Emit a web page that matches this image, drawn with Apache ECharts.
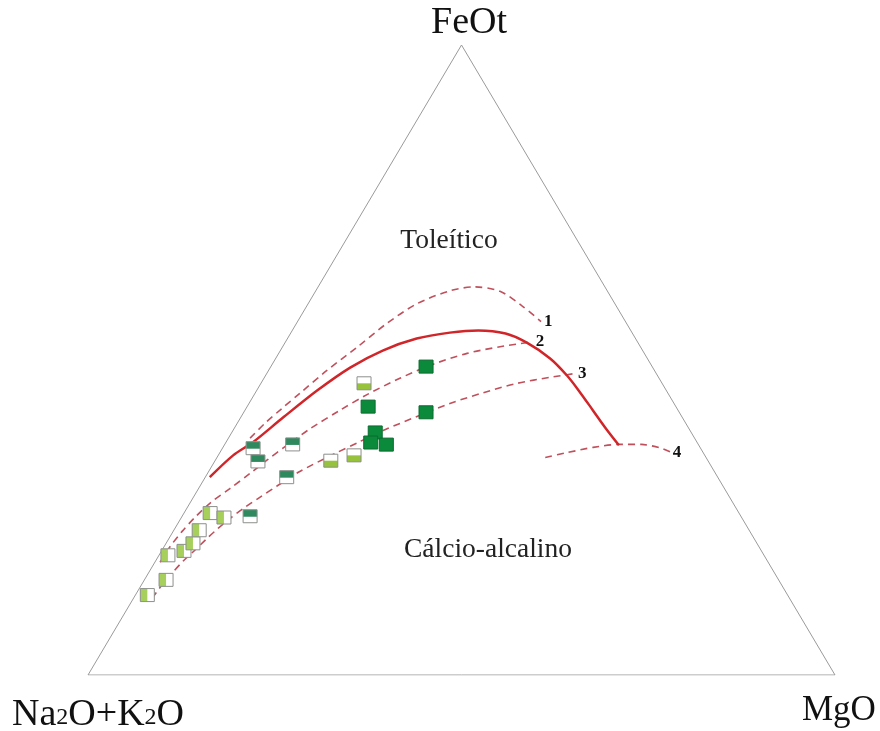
<!DOCTYPE html>
<html>
<head>
<meta charset="utf-8">
<style>
  html,body{margin:0;padding:0;background:#fff;}
  #chart{width:880px;height:731px;}
</style>
<script src="https://cdn.jsdelivr.net/npm/echarts@6/dist/echarts.min.js"></script>
</head>
<body>
<div id="chart"></div>
<script>
// Ternary compositions as [Na2O+K2O (A), FeOt (F), MgO (M)] in %
var vertexLabels = ['Na2O+K2O', 'FeOt', 'MgO'];
var fieldLabels = ['Toleítico', 'Cálcio-alcalino'];
var curveNames = ['1', '2', '3', '4'];

var triangle = [[100, 0, 0], [0, 100, 0], [0, 0, 100], [100, 0, 0]];

// Samples: half dark-teal (top) squares
var groupTopTeal = [[59.9, 36.0, 4.1], [60.3, 33.9, 5.8], [54.3, 36.6, 9.1], [57.7, 31.4, 10.9], [65.7, 25.2, 9.1]];
// Samples: half light-green (left) squares
var groupLeftGreen = [[85.8, 12.7, 1.6], [82.0, 15.1, 2.9], [79.8, 19.0, 1.2], [77.3, 19.7, 3.0], [75.5, 20.9, 3.6], [73.7, 23.0, 3.4], [70.8, 25.7, 3.5], [69.3, 25.0, 5.7]];
// Samples: half yellow-green (bottom) squares
var groupBottomGreen = [[39.9, 46.3, 13.8], [51.8, 34.9, 15.9], [47.0, 34.9, 18.2]];
// Samples: full dark-green squares
var groupFullGreen = [[30.3, 49.0, 20.8], [41.2, 42.6, 16.2], [33.9, 41.7, 24.4], [42.3, 38.5, 19.2], [43.7, 36.9, 19.4], [40.9, 35.8, 21.2]];

// Tholeiitic / calc-alkaline boundary (solid)
var boundary = [[68.0, 31.4, 0.6], [63.2, 34.9, 2.0], [59.4, 36.9, 3.6], [53.4, 40.9, 5.7], [46.8, 45.2, 8.1], [40.5, 48.8, 10.7], [34.8, 51.5, 13.7], [29.3, 53.4, 17.3], [24.4, 54.4, 21.3], [20.4, 54.7, 24.9], [17.0, 54.2, 28.8], [14.9, 52.8, 32.4], [13.0, 50.2, 36.7], [12.1, 47.5, 40.4], [11.7, 44.9, 43.4], [11.4, 42.0, 46.6], [11.1, 39.1, 49.8], [10.7, 36.5, 52.9]];

// Dashed reference trends 1-4
var curve1 = [[59.5, 37.6, 2.9], [56.3, 39.9, 3.7], [52.9, 42.3, 4.8], [49.3, 44.7, 6.0], [43.8, 48.3, 7.8], [38.0, 52.0, 10.0], [32.1, 55.8, 12.1], [26.5, 59.0, 14.6], [21.0, 61.0, 18.0], [17.4, 61.6, 21.0], [14.4, 60.9, 24.7], [12.6, 58.6, 28.8], [11.3, 56.1, 32.6]];
var curve2 = [[81.4, 17.9, 0.7], [78.8, 20.4, 0.8], [76.0, 22.8, 1.2], [73.2, 25.0, 1.8], [70.0, 27.3, 2.7], [66.2, 29.6, 4.2], [62.3, 32.0, 5.7], [59.0, 34.1, 6.9], [55.1, 36.5, 8.4], [50.7, 39.1, 10.2], [45.3, 42.0, 12.7], [40.4, 44.5, 15.1], [34.7, 47.1, 18.2], [29.2, 49.3, 21.5], [23.7, 51.0, 25.2], [18.8, 52.1, 29.1], [14.0, 52.9, 33.1]];
var curve3 = [[85.3, 12.2, 2.5], [82.7, 14.6, 2.8], [80.5, 16.3, 3.2], [78.2, 18.1, 3.7], [75.8, 19.8, 4.4], [73.2, 21.7, 5.1], [70.9, 23.3, 5.8], [68.6, 24.9, 6.6], [65.7, 26.6, 7.7], [62.9, 28.2, 8.9], [59.7, 30.0, 10.3], [55.5, 32.3, 12.2], [49.7, 35.0, 15.3], [45.1, 37.1, 17.9], [41.1, 38.8, 20.1], [35.4, 41.0, 23.5], [30.0, 43.1, 26.9], [24.7, 44.8, 30.5], [19.4, 46.3, 34.3], [14.5, 47.2, 38.2], [10.6, 47.9, 41.5]];
var curve4 = [[21.5, 34.5, 43.9], [18.2, 35.3, 46.5], [14.3, 36.1, 49.5], [10.7, 36.6, 52.7], [7.6, 36.6, 55.8], [5.5, 36.1, 58.4], [4.2, 35.3, 60.5]];

// ternary -> cartesian (x across base, y = FeOt fraction)
function toXY(list) {
  return list.map(function (t) {
    var s = t[0] + t[1] + t[2];
    var f = t[1] / s, m = t[2] / s;
    return [m + f / 2, f];
  });
}

function boxRenderer(kind) {
  return function (params, api) {
    var p = api.coord([api.value(0), api.value(1)]);
    var w = 14, h = 13;
    var x = p[0] - w / 2, y = p[1] - h / 2;
    var children = [];
    if (kind === 'full') {
      children.push({type: 'rect', shape: {x: x, y: y, width: w, height: h}, style: {fill: '#0c8a3c', stroke: '#0a6b2e', lineWidth: 1}});
    } else {
      children.push({type: 'rect', shape: {x: x, y: y, width: w, height: h}, style: {fill: '#ffffff', stroke: 'none'}});
      var r;
      if (kind === 'top') r = {x: x, y: y, width: w, height: h / 2 + 0.5};
      if (kind === 'left') r = {x: x, y: y, width: w / 2, height: h};
      if (kind === 'bottom') r = {x: x, y: y + h / 2, width: w, height: h / 2};
      var col = kind === 'top' ? '#2e8a5e' : (kind === 'left' ? '#a6cf5c' : '#97c23e');
      children.push({type: 'rect', shape: r, style: {fill: col}});
      children.push({type: 'rect', shape: {x: x, y: y, width: w, height: h}, style: {fill: 'none', stroke: '#8c8f8c', lineWidth: 1}});
    }
    return {type: 'group', children: children};
  };
}

function dashed(name, data, label, dist, sm) {
  return {
    type: 'line', name: name, data: toXY(data), smooth: sm, showSymbol: false, symbol: 'none',
    lineStyle: {color: '#c0505c', width: 1.6, type: [7, 5]},
    endLabel: {show: true, formatter: label, distance: dist, color: '#111',
      fontFamily: 'Liberation Serif', fontWeight: 'bold', fontSize: 17},
    z: 3, silent: true
  };
}

var chart = echarts.init(document.getElementById('chart'), null, {renderer: 'canvas'});
chart.setOption({
  backgroundColor: '#ffffff',
  animation: false,
  grid: {left: 88, right: 45, top: 45, bottom: 56},
  xAxis: {type: 'value', min: 0, max: 1, show: false},
  yAxis: {type: 'value', min: 0, max: 1, show: false},
  graphic: [
    {type: 'text', x: 469, y: 23, style: {text: vertexLabels[1], fontFamily: 'Liberation Serif', fontSize: 38, fill: '#111', align: 'center', verticalAlign: 'middle'}},
    {type: 'text', x: 12, y: 713, style: {
      text: '{a|Na}{s|2}{a|O+K}{s|2}{a|O}',
      verticalAlign: 'middle', align: 'left',
      rich: {
        a: {fontFamily: 'Liberation Serif', fontSize: 38, fill: '#111', verticalAlign: 'bottom', lineHeight: 42},
        s: {fontFamily: 'Liberation Serif', fontSize: 24, fill: '#111', verticalAlign: 'bottom', lineHeight: 42, padding: [0, 0, 4, 0]}
      }}},
    {type: 'text', x: 802, y: 711, style: {text: vertexLabels[2], fontFamily: 'Liberation Serif', fontSize: 35, fill: '#111', align: 'left', verticalAlign: 'middle'}},
    {type: 'text', x: 449, y: 241, style: {text: fieldLabels[0], fontFamily: 'Liberation Serif', fontSize: 27.5, fill: '#222', align: 'center', verticalAlign: 'middle'}},
    {type: 'text', x: 488, y: 550, style: {text: fieldLabels[1], fontFamily: 'Liberation Serif', fontSize: 27.5, fill: '#222', align: 'center', verticalAlign: 'middle'}}
  ],
  series: [
    {type: 'line', name: 'triangle', data: toXY(triangle), showSymbol: false, symbol: 'none',
      lineStyle: {color: '#9a9a9a', width: 1}, z: 1, silent: true},
    dashed('c1', curve1, curveNames[0], 3, 0.3),
    dashed('c2', curve2, curveNames[1], 3, 0.3),
    dashed('c3', curve3, curveNames[2], 1, 0.3),
    dashed('c4', curve4, curveNames[3], 1, 0.25),
    {type: 'line', name: 'boundary', data: toXY(boundary), smooth: 0.3, showSymbol: false, symbol: 'none',
      lineStyle: {color: '#d0262a', width: 2.5}, z: 4, silent: true},
    {type: 'custom', name: 'A', data: toXY(groupTopTeal), renderItem: boxRenderer('top'), encode: {x: 0, y: 1}, z: 10},
    {type: 'custom', name: 'B', data: toXY(groupLeftGreen), renderItem: boxRenderer('left'), encode: {x: 0, y: 1}, z: 10},
    {type: 'custom', name: 'C', data: toXY(groupBottomGreen), renderItem: boxRenderer('bottom'), encode: {x: 0, y: 1}, z: 10},
    {type: 'custom', name: 'D', data: toXY(groupFullGreen), renderItem: boxRenderer('full'), encode: {x: 0, y: 1}, z: 10}
  ]
});
</script>
</body>
</html>
